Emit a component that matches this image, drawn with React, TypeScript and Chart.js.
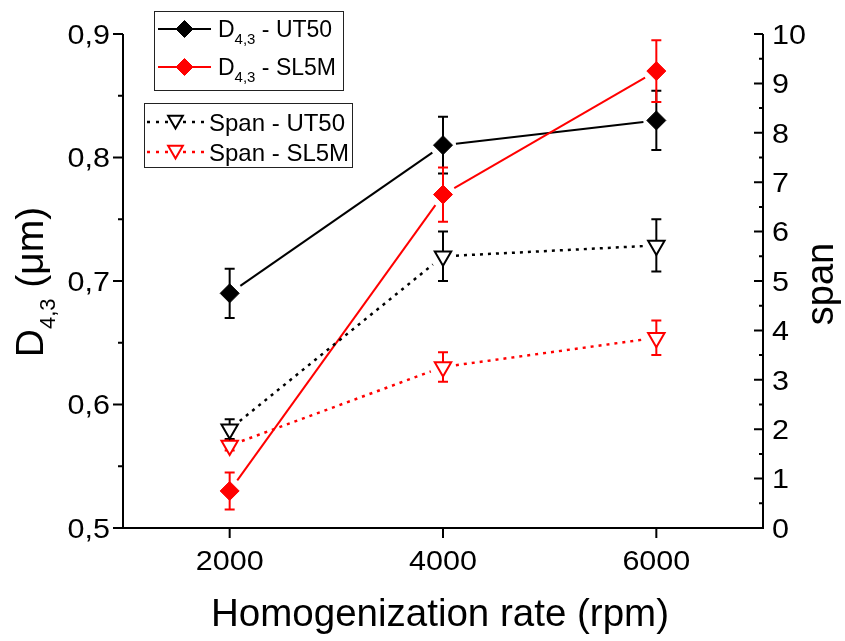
import React, { useEffect, useRef } from "react";
import { Chart, registerables } from "chart.js";

Chart.register(...registerables);

// Homogenization rate (rpm)
const RATES = [2000, 4000, 6000];

// Mean volume diameter D4,3 (µm) and its standard deviation
const D43_UT50 = [0.69, 0.81, 0.83];
const D43_UT50_SD = [0.02, 0.023, 0.024];
const D43_SL5M = [0.53, 0.77, 0.87];
const D43_SL5M_SD = [0.015, 0.022, 0.025];

// Span of the size distribution and its standard deviation
const SPAN_UT50 = [2.0, 5.5, 5.72];
const SPAN_UT50_SD = [0.2, 0.5, 0.53];
const SPAN_SL5M = [1.67, 3.26, 3.85];
const SPAN_SL5M_SD = [0.1, 0.3, 0.35];

// Axis ticks
const X_TICKS = [2000, 4000, 6000];
const D43_TICKS = [0.5, 0.6, 0.7, 0.8, 0.9];
const D43_MINOR_TICKS = [0.55, 0.65, 0.75, 0.85];
const SPAN_TICKS = [0, 1, 2, 3, 4, 5, 6, 7, 8, 9, 10];
const SPAN_MINOR_TICKS = [0.5, 1.5, 2.5, 3.5, 4.5, 5.5, 6.5, 7.5, 8.5, 9.5];

const FONT = '"Liberation Sans", Arial, Helvetica, sans-serif';
const BLACK = "#000000";
const RED = "#ff0000";

type Part = { t: string; size: number; dy: number };

function drawText(
  ctx: CanvasRenderingContext2D,
  text: string,
  x: number,
  y: number,
  size: number,
  align: CanvasTextAlign,
  sx = 1,
  rot = 0
) {
  ctx.save();
  ctx.translate(x, y);
  if (rot) ctx.rotate(rot);
  ctx.scale(sx, 1);
  ctx.font = `${size}px ${FONT}`;
  ctx.textAlign = align;
  ctx.textBaseline = "alphabetic";
  ctx.fillStyle = BLACK;
  ctx.fillText(text, 0, 0);
  ctx.restore();
}

// Text made of runs (used for the D4,3 subscript); x is the start, y the baseline
function drawRuns(
  ctx: CanvasRenderingContext2D,
  parts: Part[],
  x: number,
  y: number,
  centered: boolean,
  rot = 0
) {
  ctx.save();
  ctx.translate(x, y);
  if (rot) ctx.rotate(rot);
  ctx.textBaseline = "alphabetic";
  ctx.textAlign = "left";
  ctx.fillStyle = BLACK;
  let total = 0;
  for (const p of parts) {
    ctx.font = `${p.size}px ${FONT}`;
    total += ctx.measureText(p.t).width;
  }
  let cx = centered ? -total / 2 : 0;
  for (const p of parts) {
    ctx.font = `${p.size}px ${FONT}`;
    ctx.fillText(p.t, cx, p.dy);
    cx += ctx.measureText(p.t).width;
  }
  ctx.restore();
}

function diamond(ctx: CanvasRenderingContext2D, x: number, y: number, r: number, color: string) {
  ctx.save();
  ctx.beginPath();
  ctx.moveTo(x - r, y);
  ctx.lineTo(x, y - r);
  ctx.lineTo(x + r, y);
  ctx.lineTo(x, y + r);
  ctx.closePath();
  ctx.fillStyle = color;
  ctx.strokeStyle = color;
  ctx.lineWidth = 1;
  ctx.fill();
  ctx.stroke();
  ctx.restore();
}

function downTriangle(ctx: CanvasRenderingContext2D, x: number, y: number, r: number, color: string) {
  const h = r * Math.sin(Math.PI / 3);
  ctx.save();
  ctx.beginPath();
  ctx.moveTo(x - h, y - r / 2);
  ctx.lineTo(x + h, y - r / 2);
  ctx.lineTo(x, y + r);
  ctx.closePath();
  ctx.fillStyle = "#ffffff";
  ctx.strokeStyle = color;
  ctx.lineWidth = 2;
  ctx.fill();
  ctx.stroke();
  ctx.restore();
}

// Error bars and connecting segments (segments stop short of the markers)
const seriesPlugin = {
  id: "seriesDecor",
  beforeDatasetsDraw(chart: any) {
    const ctx: CanvasRenderingContext2D = chart.ctx;
    chart.data.datasets.forEach((ds: any, i: number) => {
      const meta = chart.getDatasetMeta(i);
      const yScale = chart.scales[ds.yAxisID];
      const pts = meta.data;
      ctx.save();
      ctx.strokeStyle = ds.borderColor;
      ctx.lineCap = "butt";
      ctx.lineWidth = ds.lineW;
      ctx.setLineDash(ds.dash);
      const gap = 13;
      for (let j = 0; j < pts.length - 1; j++) {
        const a = pts[j];
        const b = pts[j + 1];
        const dx = b.x - a.x;
        const dy = b.y - a.y;
        const len = Math.hypot(dx, dy);
        const ux = dx / len;
        const uy = dy / len;
        ctx.beginPath();
        ctx.moveTo(a.x + ux * gap, a.y + uy * gap);
        ctx.lineTo(b.x - ux * gap, b.y - uy * gap);
        ctx.stroke();
      }
      ctx.setLineDash([]);
      ctx.lineWidth = 2;
      pts.forEach((p: any, j: number) => {
        const v = ds.data[j].y;
        const e = ds.sd[j];
        const t = yScale.getPixelForValue(v + e);
        const bt = yScale.getPixelForValue(v - e);
        ctx.beginPath();
        ctx.moveTo(p.x, t);
        ctx.lineTo(p.x, bt);
        ctx.moveTo(p.x - 5, t);
        ctx.lineTo(p.x + 5, t);
        ctx.moveTo(p.x - 5, bt);
        ctx.lineTo(p.x + 5, bt);
        ctx.stroke();
      });
      ctx.restore();
    });
  },
};

// Axes, tick labels, titles and the two legend boxes
const framePlugin = {
  id: "frame",
  afterDraw(chart: any) {
    const ctx: CanvasRenderingContext2D = chart.ctx;
    const { left, right, top, bottom } = chart.chartArea;
    const xs = chart.scales.x;
    const yl = chart.scales.y;
    const yr = chart.scales.y1;
    const tickSx = 1.13;
    const tickSize = 27;

    ctx.save();
    ctx.strokeStyle = BLACK;
    ctx.lineWidth = 2;
    ctx.lineCap = "butt";
    ctx.beginPath();
    // axis lines
    ctx.moveTo(left, top);
    ctx.lineTo(left, bottom);
    ctx.moveTo(left - 1, bottom);
    ctx.lineTo(right + 1, bottom);
    ctx.moveTo(right, top);
    ctx.lineTo(right, bottom);
    // left ticks (outward)
    D43_TICKS.forEach((v) => {
      const y = yl.getPixelForValue(v);
      ctx.moveTo(left - 10, y);
      ctx.lineTo(left, y);
    });
    D43_MINOR_TICKS.forEach((v) => {
      const y = yl.getPixelForValue(v);
      ctx.moveTo(left - 5, y);
      ctx.lineTo(left, y);
    });
    // right ticks (inward)
    SPAN_TICKS.forEach((v) => {
      const y = yr.getPixelForValue(v);
      ctx.moveTo(right - 9, y);
      ctx.lineTo(right, y);
    });
    SPAN_MINOR_TICKS.forEach((v) => {
      const y = yr.getPixelForValue(v);
      ctx.moveTo(right - 4, y);
      ctx.lineTo(right, y);
    });
    // bottom ticks (outward)
    X_TICKS.forEach((v) => {
      const x = xs.getPixelForValue(v);
      ctx.moveTo(x, bottom);
      ctx.lineTo(x, bottom + 10);
    });
    ctx.stroke();
    ctx.restore();

    // tick labels
    D43_TICKS.forEach((v) => {
      drawText(ctx, v.toFixed(1).replace(".", ","), 110, yl.getPixelForValue(v) + 9.8, tickSize, "right", tickSx);
    });
    SPAN_TICKS.forEach((v) => {
      drawText(ctx, String(v), 772, yr.getPixelForValue(v) + 9.8, tickSize, "left", tickSx);
    });
    X_TICKS.forEach((v) => {
      drawText(ctx, String(v), xs.getPixelForValue(v), 570, tickSize, "center", tickSx);
    });

    // axis titles
    drawText(ctx, "Homogenization rate (rpm)", 440, 626, 38.5, "center");
    drawText(ctx, "span", 833, 284, 38, "center", 1, -Math.PI / 2);
    drawRuns(
      ctx,
      [
        { t: "D", size: 39, dy: 0 },
        { t: "4,3", size: 22, dy: 12 },
        { t: " (\u03bcm)", size: 39, dy: 0 },
      ],
      43,
      282,
      true,
      -Math.PI / 2
    );

    // legend boxes
    ctx.save();
    ctx.strokeStyle = "#222";
    ctx.lineWidth = 1;
    ctx.strokeRect(154.5, 11.5, 189, 79);
    ctx.strokeRect(144.5, 103.5, 208, 64);
    ctx.restore();

    // legend: D4,3
    const solidRows = [
      { y: 29, color: BLACK, label: " - UT50" },
      { y: 67, color: RED, label: " - SL5M" },
    ];
    solidRows.forEach((r) => {
      ctx.save();
      ctx.strokeStyle = r.color;
      ctx.lineWidth = 2;
      ctx.beginPath();
      ctx.moveTo(158, r.y);
      ctx.lineTo(211, r.y);
      ctx.stroke();
      ctx.restore();
      diamond(ctx, 184.5, r.y, 8.5, r.color);
      drawRuns(
        ctx,
        [
          { t: "D", size: 23, dy: 0 },
          { t: "4,3", size: 15, dy: 7 },
          { t: r.label, size: 23, dy: 0 },
        ],
        218,
        r.y + 8.3,
        false
      );
    });

    // legend: span
    const dotRows = [
      { y: 122, color: BLACK, label: "Span - UT50" },
      { y: 152, color: RED, label: "Span - SL5M" },
    ];
    dotRows.forEach((r) => {
      ctx.save();
      ctx.strokeStyle = r.color;
      ctx.lineWidth = 2.5;
      ctx.setLineDash([3, 6]);
      ctx.beginPath();
      ctx.moveTo(147, r.y);
      ctx.lineTo(205, r.y);
      ctx.stroke();
      ctx.restore();
      downTriangle(ctx, 175.5, r.y - 2, 8.5, r.color);
      drawText(ctx, r.label, 209, r.y + 8.5, 24, "left");
    });
  },
};

function series(
  values: number[],
  sd: number[],
  color: string,
  axis: string,
  kind: "diamond" | "triangle"
) {
  const isDiamond = kind === "diamond";
  return {
    data: RATES.map((x, i) => ({ x, y: values[i] })),
    sd,
    yAxisID: axis,
    borderColor: color,
    backgroundColor: color,
    showLine: false,
    lineW: isDiamond ? 2 : 2.5,
    dash: isDiamond ? [] : [3, 5],
    pointStyle: isDiamond ? "rectRot" : "triangle",
    pointRotation: isDiamond ? 0 : 180,
    pointRadius: 9.5,
    pointBorderWidth: isDiamond ? 1 : 2,
    pointBackgroundColor: isDiamond ? color : "#ffffff",
    pointBorderColor: color,
  };
}

export default function App() {
  const canvasRef = useRef<HTMLCanvasElement>(null);

  useEffect(() => {
    document.body.style.margin = "0";
    const canvas = canvasRef.current;
    if (!canvas) return;
    const chart = new Chart(canvas, {
      type: "line",
      data: {
        datasets: [
          series(D43_UT50, D43_UT50_SD, BLACK, "y", "diamond"),
          series(D43_SL5M, D43_SL5M_SD, RED, "y", "diamond"),
          series(SPAN_UT50, SPAN_UT50_SD, BLACK, "y1", "triangle"),
          series(SPAN_SL5M, SPAN_SL5M_SD, RED, "y1", "triangle"),
        ] as any,
      },
      options: {
        animation: false,
        responsive: true,
        maintainAspectRatio: false,
        events: [],
        layout: { padding: { top: 34, left: 0, right: 0, bottom: 0 } },
        plugins: {
          legend: { display: false },
          tooltip: { enabled: false },
        },
        scales: {
          x: {
            type: "linear",
            min: 1000,
            max: 7000,
            ticks: { display: false },
            grid: { display: false },
            border: { display: false },
            afterFit: (s: any) => {
              s.height = 113;
            },
          },
          y: {
            type: "linear",
            position: "left",
            min: 0.5,
            max: 0.9,
            ticks: { display: false },
            grid: { display: false },
            border: { display: false },
            afterFit: (s: any) => {
              s.width = 123;
            },
          },
          y1: {
            type: "linear",
            position: "right",
            min: 0,
            max: 10,
            ticks: { display: false },
            grid: { display: false },
            border: { display: false },
            afterFit: (s: any) => {
              s.width = 82;
            },
          },
        },
      } as any,
      plugins: [seriesPlugin, framePlugin],
    });
    return () => chart.destroy();
  }, []);

  return (
    <div style={{ position: "relative", width: 845, height: 641 }}>
      <canvas ref={canvasRef} />
    </div>
  );
}
